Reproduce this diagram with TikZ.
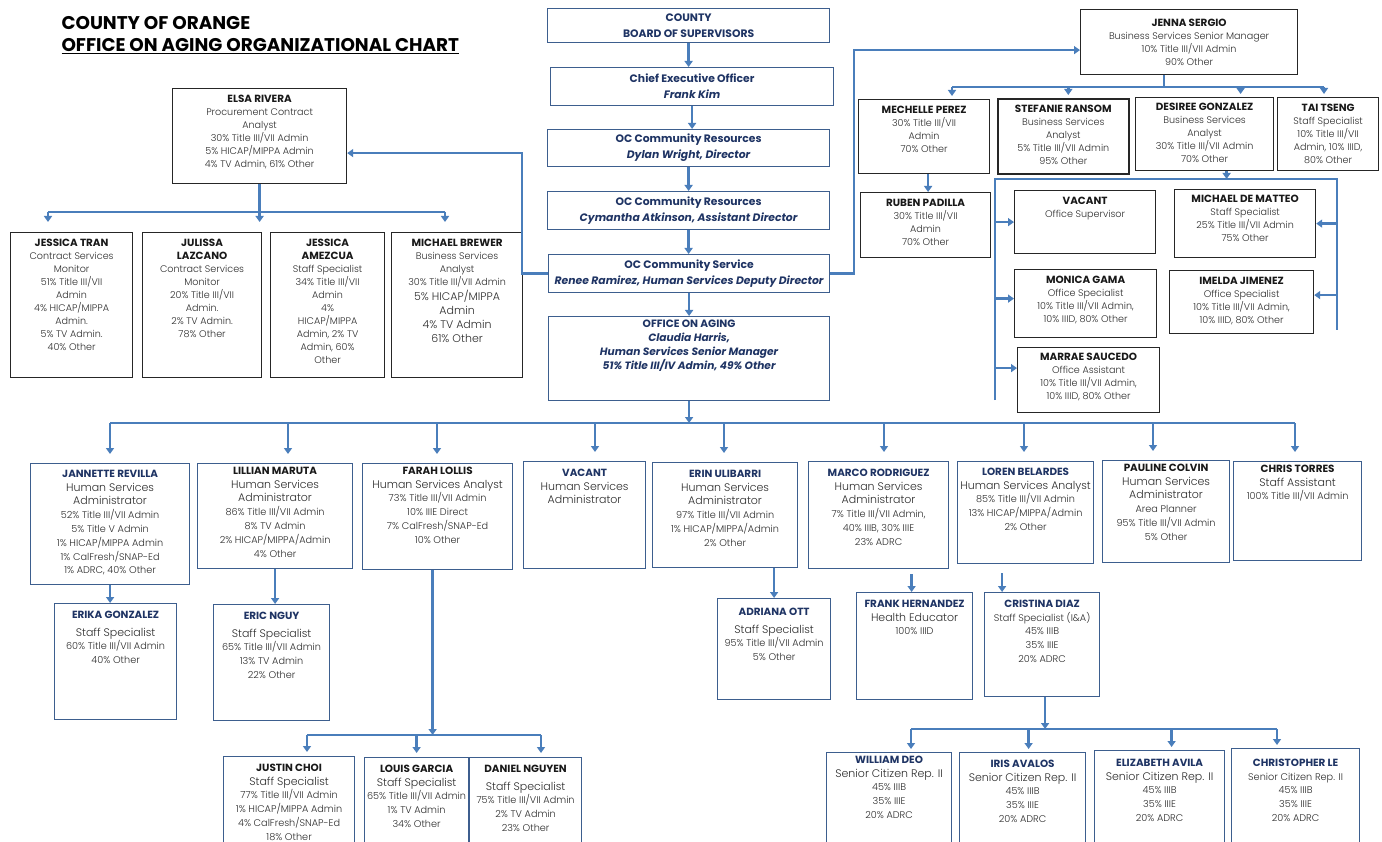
\documentclass[tikz,border=0pt]{standalone}
\usepackage{fontspec}
\setmainfont{Poppins}
\IfFontExistsTF{Poppins Light}{\newfontfamily\bodyfont{Poppins Light}}{\newfontfamily\bodyfont{Poppins}}
\usepackage{xcolor}
\usetikzlibrary{positioning,arrows.meta}
\definecolor{ocLine}{HTML}{4A7EBB}
\definecolor{ocFrame}{HTML}{3D5E8E}
\definecolor{ocNavy}{HTML}{1F3464}
\definecolor{ocInk}{HTML}{2E2E2E}
\newcommand{\kname}{\rmfamily\bfseries\fontsize{10.4}{13.5}\selectfont\color{black!90}}
\newcommand{\bname}{\rmfamily\bfseries\fontsize{10.4}{13.5}\selectfont\color{ocNavy}}
\newcommand{\prole}{\fontsize{11}{13.5}\selectfont}
\newcommand{\staffcell}[4][6]{\parbox[c][#3pt][t]{#2pt}{\vspace*{#1pt}\makebox[#2pt]{\begin{tabular}[t]{@{}c@{}}#4\end{tabular}}}}
\tikzset{
  cellBase/.style={draw, inner sep=0pt, anchor=north west, line width=1.2pt},
  cellBlack/.style={cellBase, draw=black!85, text=ocInk, font=\bodyfont\fontsize{9.6}{13}\selectfont},
  cellBlue/.style={cellBase, draw=ocFrame, text=ocInk, font=\bodyfont\fontsize{9.7}{13.8}\selectfont},
  topBox/.style={cellBase, draw=ocFrame, text=ocNavy, align=center, font=\bfseries\fontsize{10.8}{16}\selectfont},
  topCell/.style={cellBase, draw=ocFrame, text=ocNavy, font=\bfseries\fontsize{10.6}{14}\selectfont},
  conn/.style={draw=ocLine, line width=2.4pt},
  arrow/.style={conn, -{Triangle[width=8pt,length=6pt]}},
  drop/.style={arrow, shorten >=#1},
  drop/.default=9pt
}
\begin{document}
\begin{tikzpicture}[x=1pt, y=-1pt]
  \useasboundingbox (0,0) rectangle (1382,842);
  \fill[white] (0,0) rectangle (1382,842);
  \node[anchor=north west, align=left, font=\bfseries\fontsize{18.4}{22}\selectfont] (title) at (58,13) {COUNTY OF ORANGE\\\underline{OFFICE ON AGING ORGANIZATIONAL CHART}};

  \node[topBox, minimum width=282pt, minimum height=34pt] (board) at (547,8) {COUNTY\\BOARD OF SUPERVISORS};
  \node[topBox, minimum width=283pt, minimum height=38pt] (ceo) at (550,67) {Chief Executive Officer\\{\itshape Frank Kim}};
  \node[topBox, minimum width=282pt, minimum height=37pt] (ocr) at (547,129) {OC Community Resources\\{\itshape Dylan Wright, Director}};
  \node[topBox, minimum width=282pt, minimum height=38pt] (ocrAsst) at (547,191) {OC Community Resources\\{\itshape Cymantha Atkinson, Assistant Director}};
  \node[topBox, minimum width=281pt, minimum height=38pt] (ocs) at (548,254) {OC Community Service\\{\itshape Renee Ramirez, Human Services Deputy Director}};
  \node[topCell] (ooa) at (548,316) {\staffcell[1]{281}{84}{OFFICE ON AGING\\\itshape Claudia Harris,\\\itshape Human Services Senior Manager\\\itshape 51\% Title III/IV Admin, 49\% Other}};
  \foreach \a/\b in {board/ceo, ceo/ocr, ocr/ocrAsst, ocrAsst/ocs, ocs/ooa}
    \draw[arrow] (\a.south) -- (\a.south |- \b.north);

  \node[cellBlack] (elsa) at (172,88) {\staffcell[5]{174}{95}{{\kname ELSA RIVERA}\\Procurement Contract\\Analyst\\30\% Title III/VII Admin\\5\% HICAP/MIPPA Admin\\4\% TV Admin, 61\% Other}};
  \node[cellBlack] (tran) at (10,232) {\staffcell[5]{122}{145}{{\kname JESSICA TRAN}\\Contract Services\\Monitor\\51\% Title III/VII\\Admin\\4\% HICAP/MIPPA\\Admin.\\5\% TV Admin.\\40\% Other}};
  \node[cellBlack] (lazcano) at (142,232) {\staffcell[5]{119}{145}{{\kname JULISSA}\\{\kname LAZCANO}\\Contract Services\\Monitor\\20\% Title III/VII\\Admin.\\2\% TV Admin.\\78\% Other}};
  \node[cellBlack] (amezcua) at (270,232) {\staffcell[5]{114}{145}{{\kname JESSICA}\\{\kname AMEZCUA}\\Staff Specialist\\34\% Title III/VII\\Admin\\4\%\\HICAP/MIPPA\\Admin, 2\% TV\\Admin, 60\%\\Other}};
  \node[cellBlack] (brewer) at (391,232) {\staffcell[5]{131}{145}{{\kname MICHAEL BREWER}\\Business Services\\Analyst\\30\% Title III/VII Admin\\[1pt]{\prole 5\% HICAP/MIPPA}\\[1pt]{\prole Admin}\\[1pt]{\prole 4\% TV Admin}\\[1pt]{\prole 61\% Other}}};
  \draw[arrow] (ocs.west) -- ++(-26,0) |- ([yshift=-17pt]elsa.east);
  \coordinate (elsaL) at (48,212);
  \coordinate (elsaR) at (445,212);
  \draw[conn] (elsa.south) -- (elsa.south |- elsaL);
  \draw[conn] (elsaL) -- (elsaR);
  \draw[drop=10pt] (elsaL) -- (elsaL |- tran.north);
  \draw[drop=10pt] (elsa.south |- elsaL) -- (elsa.south |- amezcua.north);
  \draw[drop=10pt] (elsaR) -- (elsaR |- brewer.north);

  \node[cellBlack] (jenna) at (1080,9) {\staffcell[8]{217}{65}{{\kname JENNA SERGIO}\\Business Services Senior Manager\\10\% Title III/VII Admin\\90\% Other}};
  \node[cellBlack] (perez) at (858,99) {\staffcell[5]{131}{74}{{\kname MECHELLE PEREZ}\\30\% Title III/VII\\Admin\\70\% Other}};
  \node[cellBlack, line width=1.6pt] (ransom) at (997,98) {\staffcell[5]{131}{75}{{\kname STEFANIE RANSOM}\\Business Services\\Analyst\\5\% Title III/VII Admin\\95\% Other}};
  \node[cellBlack] (desiree) at (1135,97) {\staffcell[4]{138}{73}{{\kname DESIREE GONZALEZ}\\Business Services\\Analyst\\30\% Title III/VII Admin\\70\% Other}};
  \node[cellBlack] (tseng) at (1277,97) {\staffcell[5]{101}{73}{{\kname TAI TSENG}\\Staff Specialist\\10\% Title III/VII\\Admin, 10\% IIID,\\80\% Other}};
  \node[cellBlack] (padilla) at (860,192) {\staffcell[5]{130}{65}{{\kname RUBEN PADILLA}\\30\% Title III/VII\\Admin\\70\% Other}};
  \node[cellBlack] (vacOS) at (1014,190) {\staffcell[5]{141}{63}{{\kname VACANT}\\Office Supervisor}};
  \node[cellBlack] (dematteo) at (1174,189) {\staffcell[4]{141}{68}{{\kname MICHAEL DE MATTEO}\\Staff Specialist\\25\% Title III/VII Admin\\75\% Other}};
  \node[cellBlack] (gama) at (1014,269) {\staffcell[5]{142}{68}{{\kname MONICA GAMA}\\Office Specialist\\10\% Title III/VII Admin,\\10\% IIID, 80\% Other}};
  \node[cellBlack] (jimenez) at (1169,270) {\staffcell[5]{144}{63}{{\kname IMELDA JIMENEZ}\\Office Specialist\\10\% Title III/VII Admin,\\10\% IIID, 80\% Other}};
  \node[cellBlack] (saucedo) at (1017,347) {\staffcell[4]{142}{65}{{\kname MARRAE SAUCEDO}\\Office Assistant\\10\% Title III/VII Admin,\\10\% IIID, 80\% Other}};
  \draw[arrow] (ocs.east) -- ++(24,0) |- ([yshift=-8pt]jenna.west);
  \coordinate (jennaL) at (952,87);
  \coordinate (jennaR) at (1324,87);
  \draw[conn] ([xshift=-25pt]jenna.south) -- ([xshift=-25pt]jenna.south |- jennaL);
  \draw[conn] (jennaL) -- (jennaR);
  \draw[drop=3pt] (jennaL) -- (jennaL |- perez.north);
  \draw[drop=3pt] ([xshift=5pt]ransom.north |- jennaL) -- ([xshift=5pt]ransom.north);
  \draw[drop=3pt] ([xshift=36pt]desiree.north |- jennaL) -- ([xshift=36pt]desiree.north);
  \draw[drop=3pt] (jennaR) -- (jennaR |- tseng.north);
  \draw[arrow] ([xshift=4pt]perez.south) -- ([xshift=4pt]perez.south |- padilla.north);
  \coordinate (deskL) at (995,179);
  \coordinate (deskR) at (1337,179);
  \coordinate (deskLB) at (995,400);
  \coordinate (deskRB) at (1337,330);
  \draw[arrow] ([xshift=22pt]desiree.south) -- ([xshift=22pt]desiree.south |- deskL);
  \draw[conn] (deskLB) -- (deskL) -- (deskR) -- (deskRB);
  \draw[arrow] (vacOS.west -| deskL) -- (vacOS.west);
  \draw[arrow] ([yshift=5pt]gama.west -| deskL) -- ([yshift=5pt]gama.west);
  \draw[arrow] ([yshift=12pt]saucedo.west -| deskL) -- ([yshift=12pt]saucedo.west);
  \draw[arrow] (dematteo.east -| deskR) -- (dematteo.east);
  \draw[arrow] ([yshift=7pt]jimenez.east -| deskR) -- ([yshift=7pt]jimenez.east);

  \node[cellBlue] (revilla) at (30,463) {\staffcell[4]{159}{121}{{\bname JANNETTE REVILLA}\\{\prole Human Services}\\{\prole Administrator}\\52\% Title III/VII Admin\\5\% Title V Admin\\1\% HICAP/MIPPA Admin\\1\% CalFresh/SNAP-Ed\\1\% ADRC, 40\% Other}};
  \node[cellBlue] (erika) at (54,603) {\staffcell[5]{122}{116}{{\bname ERIKA GONZALEZ}\\[4pt]{\prole Staff Specialist}\\60\% Title III/VII Admin\\40\% Other}};
  \node[cellBlue] (maruta) at (197,463) {\staffcell[1]{155}{105}{{\kname LILLIAN MARUTA}\\{\prole Human Services}\\{\prole Administrator}\\86\% Title III/VII Admin\\8\% TV Admin\\2\% HICAP/MIPPA/Admin\\4\% Other}};
  \node[cellBlue] (nguy) at (213,604) {\staffcell[5]{116}{116}{{\bname ERIC NGUY}\\[4pt]{\prole Staff Specialist}\\65\% Title III/VII Admin\\13\% TV Admin\\22\% Other}};
  \node[cellBlue] (lollis) at (362,463) {\staffcell[1]{150}{106}{{\kname FARAH LOLLIS}\\{\prole Human Services Analyst}\\73\% Title III/VII Admin\\10\% IIIE Direct\\7\% CalFresh/SNAP-Ed\\10\% Other}};
  \node[cellBlue] (vacHSA) at (523,461) {\staffcell[5]{122}{107}{{\bname VACANT}\\{\prole Human Services}\\{\prole Administrator}}};
  \node[cellBlue] (ulibarri) at (652,462) {\staffcell[5]{145}{105}{{\bname ERIN ULIBARRI}\\{\prole Human Services}\\{\prole Administrator}\\97\% Title III/VII Admin\\1\% HICAP/MIPPA/Admin\\2\% Other}};
  \node[cellBlue] (ott) at (717,598) {\staffcell[7]{113}{101}{{\bname ADRIANA OTT}\\[4pt]{\prole Staff Specialist}\\95\% Title III/VII Admin\\5\% Other}};
  \node[cellBlue] (rodriguez) at (808,461) {\staffcell[5]{140}{107}{{\bname MARCO RODRIGUEZ}\\{\prole Human Services}\\{\prole Administrator}\\7\% Title III/VII Admin,\\40\% IIIB, 30\% IIIE\\23\% ADRC}};
  \node[cellBlue] (hernandez) at (856,592) {\staffcell[5]{116}{107}{{\bname FRANK HERNANDEZ}\\{\prole Health Educator}\\100\% IIID}};
  \node[cellBlue] (belardes) at (957,461) {\staffcell[4]{136}{102}{{\bname LOREN BELARDES}\\{\prole Human Services Analyst}\\85\% Title III/VII Admin\\13\% HICAP/MIPPA/Admin\\2\% Other}};
  \node[cellBlue] (diaz) at (984,592) {\staffcell[5]{115}{104}{{\bname CRISTINA DIAZ}\\Staff Specialist (I\&A)\\45\% IIIB\\35\% IIIE\\20\% ADRC}};
  \node[cellBlue] (colvin) at (1102,460) {\staffcell[1]{127}{102}{{\kname PAULINE COLVIN}\\{\prole Human Services}\\{\prole Administrator}\\Area Planner\\95\% Title III/VII Admin\\5\% Other}};
  \node[cellBlue] (torres) at (1233,461) {\staffcell[1]{128}{99}{{\kname CHRIS TORRES}\\{\prole Staff Assistant}\\100\% Title III/VII Admin}};
  \node[cellBlue] (choi) at (223,756) {\staffcell[5]{131}{100}{{\kname JUSTIN CHOI}\\{\prole Staff Specialist}\\77\% Title III/VII Admin\\1\% HICAP/MIPPA Admin\\4\% CalFresh/SNAP-Ed\\18\% Other}};
  \node[cellBlue] (garcia) at (364,757) {\staffcell[5]{104}{100}{{\kname LOUIS GARCIA}\\{\prole Staff Specialist}\\65\% Title III/VII Admin\\1\% TV Admin\\34\% Other}};
  \node[cellBlue] (nguyen) at (469,757) {\staffcell[5]{112}{100}{{\kname DANIEL NGUYEN}\\[4pt]{\prole Staff Specialist}\\75\% Title III/VII Admin\\2\% TV Admin\\23\% Other}};
  \node[cellBlue] (deo) at (826,752) {\staffcell[1]{125}{100}{{\bname WILLIAM DEO}\\{\prole Senior Citizen Rep. II}\\45\% IIIB\\35\% IIIE\\20\% ADRC}};
  \node[cellBlue] (avalos) at (959,752) {\staffcell[5]{126}{100}{{\bname IRIS AVALOS}\\{\prole Senior Citizen Rep. II}\\45\% IIIB\\35\% IIIE\\20\% ADRC}};
  \node[cellBlue] (avila) at (1094,750) {\staffcell[6]{130}{100}{{\bname ELIZABETH AVILA}\\{\prole Senior Citizen Rep. II}\\45\% IIIB\\35\% IIIE\\20\% ADRC}};
  \node[cellBlue] (le) at (1231,748) {\staffcell[8]{128}{100}{{\bname CHRISTOPHER LE}\\Senior Citizen Rep. II\\45\% IIIB\\35\% IIIE\\20\% ADRC}};

  \coordinate (agingL) at (110,423);
  \coordinate (agingR) at (1295,423);
  \draw[arrow] (ooa.south) -- (ooa.south |- agingL);
  \draw[conn] (agingL) -- (agingR);
  \foreach \x/\n in {110/revilla, 288/maruta, 437/lollis, 595/vacHSA, 724/ulibarri, 884/rodriguez, 1024/belardes, 1153/colvin, 1295/torres}
    \draw[drop=9pt] (agingL -| \x,0) -- (\x,0 |- \n.north);
  \draw[arrow] (revilla.south) -- (revilla.south |- erika.north);
  \draw[arrow] (maruta.south) -- (maruta.south |- nguy.north);
  \draw[arrow] (ott.north |- ulibarri.south) -- (ott.north);
  \draw[arrow, shorten <=5pt] ([xshift=-3pt]hernandez.north |- rodriguez.south) -- ([xshift=-3pt]hernandez.north);
  \draw[arrow, shorten <=9pt] ([xshift=-40pt]diaz.north |- belardes.south) -- ([xshift=-40pt]diaz.north);

  \coordinate (farahL) at (307,735);
  \coordinate (farahR) at (541,735);
  \draw[arrow] ([xshift=-5pt]lollis.south) -- ([xshift=-5pt]lollis.south |- farahL);
  \draw[conn] (farahL) -- (farahR);
  \draw[drop=4pt] (farahL) -- (farahL |- choi.north);
  \draw[drop=4pt] (garcia.north |- farahL) -- (garcia.north);
  \draw[drop=4pt] (farahR) -- (farahR |- nguyen.north);

  \coordinate (diazL) at (911,729);
  \coordinate (diazR) at (1277,729);
  \draw[arrow] ([xshift=3pt]diaz.south) -- ([xshift=3pt]diaz.south |- diazL);
  \draw[conn] (diazL) -- (diazR);
  \draw[drop=3pt] (diazL) -- (diazL |- deo.north);
  \draw[drop=3pt] ([xshift=6pt]avalos.north |- diazL) -- ([xshift=6pt]avalos.north);
  \draw[drop=3pt] ([xshift=12pt]avila.north |- diazL) -- ([xshift=12pt]avila.north);
  \draw[drop=3pt] (diazR) -- (diazR |- le.north);
\end{tikzpicture}
\end{document}
